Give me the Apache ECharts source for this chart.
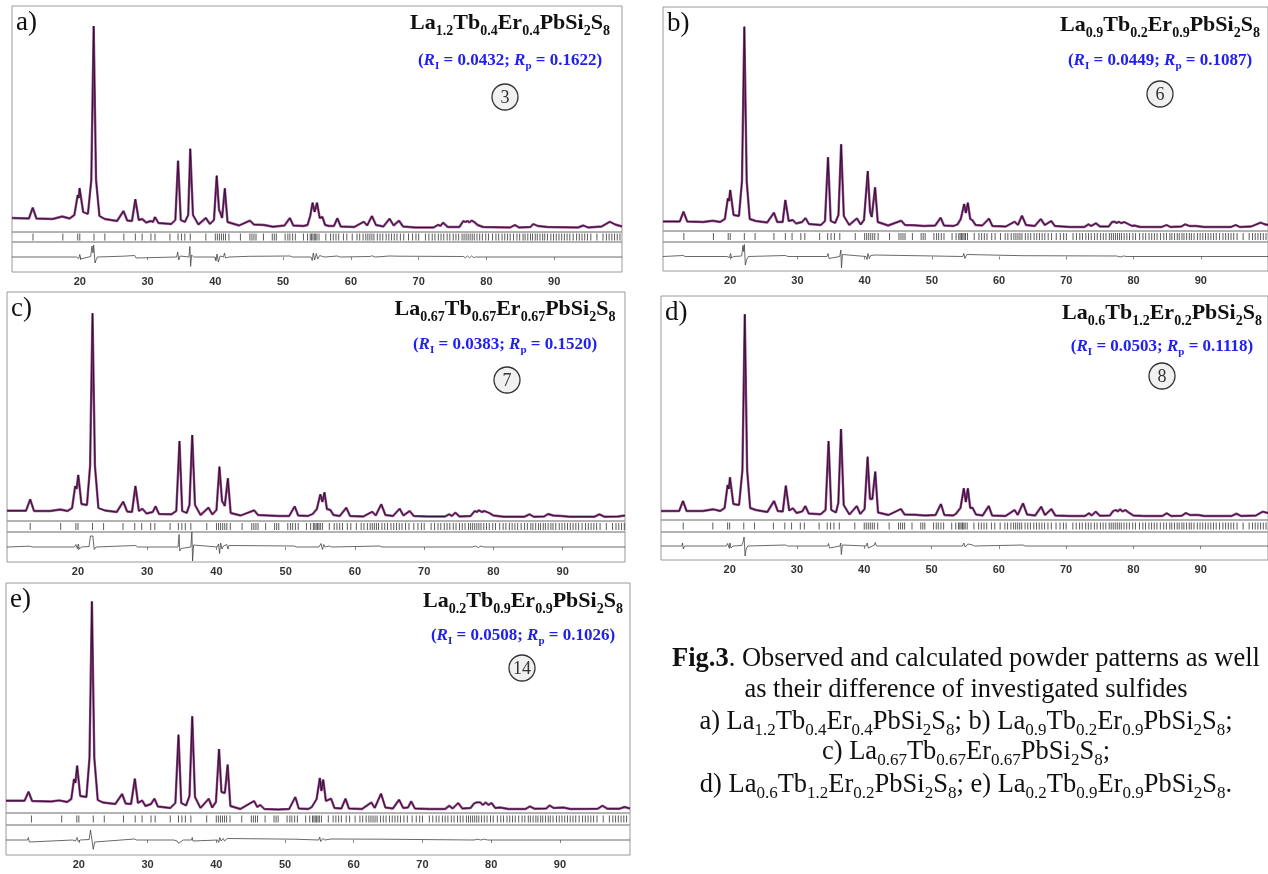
<!DOCTYPE html>
<html>
<head>
<meta charset="utf-8">
<title>Fig.3 powder patterns</title>
<script src="https://cdn.jsdelivr.net/npm/echarts@6/dist/echarts.min.js"></script>
<style>
  html, body { margin: 0; padding: 0; background: #fff; }
  #chart { width: 1268px; height: 874px; }
</style>
</head>
<body>
<div id="chart"></div>
<script>
// 2theta labels under every panel
const axisTicks = [20, 30, 40, 50, 60, 70, 80, 90];

// observed / calculated profile, [2theta, intensity] (arb. units)
const obsA = [[10,14],[12.5,13.5],[13.06,24.3],[13.6,13.5],[16,13],[17.4,15.5],[18.5,13.5],[19.2,17],[19.7,37],[19.85,34],[19.97,44],[20.5,20],[21.2,18],[21.7,52],[22.05,206],[22.4,52],[22.9,16],[23.7,13],[25.5,11],[26.45,21],[27.0,11.5],[27.7,11],[28.2,32.7],[28.7,12],[29.2,13],[29.8,9.5],[30.5,11],[30.8,10],[31.1,15],[31.6,9],[33.5,8],[34.1,12],[34.5,71.3],[34.9,12],[35.5,10],[36.0,17],[36.3,83.3],[36.7,17],[37.5,7.5],[38.6,14],[39.2,8],[39.8,12],[40.2,56.3],[40.55,22],[40.75,19],[41.0,14],[41.4,43.7],[41.8,10],[43.5,6.5],[45.1,11.3],[45.7,7.5],[47.2,7],[48.5,5.3],[50.2,6.5],[51.0,14],[51.5,6.5],[53.0,6],[53.6,7],[54.0,16],[54.35,29.3],[54.65,20],[55.0,29.3],[55.4,14],[55.8,15],[56.2,7],[56.8,6],[57.5,6],[58.0,13.7],[58.5,5.5],[60.5,5],[61.9,10.3],[62.4,6.5],[63.1,16],[63.7,7],[64.8,5.5],[65.7,13.3],[66.3,6.5],[67.1,11.3],[67.7,5.5],[69.5,4.5],[72.2,4.5],[72.9,7.3],[73.2,6],[73.6,9.3],[74.3,5],[76.0,5],[76.6,11],[76.9,10],[77.2,11],[77.5,9.5],[77.8,11.5],[78.2,10],[78.7,7],[79.5,5],[83.5,4.5],[84.2,7],[84.8,4.5],[86.5,5],[86.9,8],[87.6,6],[89.0,5],[93.5,4.5],[94.3,6.5],[95.0,4.5],[97.0,5.5],[98.2,10.3],[99.0,7.5],[100,5.5]];
const obsB = [[10,9.5],[12.5,9.5],[13.05,19.3],[13.6,9.5],[16,9],[17.4,10.3],[18.5,9],[19.2,12],[19.65,32.7],[19.82,30],[20.0,41],[20.5,16],[21.3,15],[21.75,50],[22.1,204.3],[22.45,50],[22.9,12],[23.8,10],[25.5,8.5],[26.5,18.3],[27.0,9],[27.8,9],[28.2,31],[28.7,10],[29.3,11],[29.8,7.5],[30.7,9],[31.2,13],[31.7,7],[33.5,6],[34.1,10],[34.55,73.7],[34.95,10],[35.6,8],[36.1,16],[36.5,86.7],[36.9,15],[37.7,6],[38.85,12.7],[39.4,6.5],[39.9,11],[40.46,60],[40.8,19.3],[41.05,14],[41.55,43.7],[41.95,9],[43.5,5.5],[45.45,10.3],[46.0,6],[47.4,5.7],[48.8,5],[50.5,5.5],[51.3,13.3],[51.8,5.5],[53.2,5],[53.8,6.5],[54.3,12],[54.8,27],[55.05,18],[55.35,28.3],[55.7,12],[56.0,11],[56.5,6],[57.5,5.5],[58.5,12.3],[59.0,5],[61.0,4.5],[62.3,9.3],[62.8,6],[63.4,15.3],[64.0,6],[65.3,5],[66.2,12],[66.8,6],[67.75,10],[68.3,5],[70.5,4],[72.7,4],[73.3,6.7],[73.7,5],[74.4,7.7],[75.0,4.5],[76.3,4.5],[76.8,9],[77.2,9.3],[77.5,8],[77.8,9.3],[78.2,7.8],[78.6,9],[79.2,7],[79.8,5],[80.1,5.5],[81,4],[84.2,4],[84.9,6],[85.5,4],[87.1,4.5],[87.7,6.7],[88.3,5],[89.3,5],[90.5,4],[94.5,4],[95.2,6],[95.8,4],[97.5,4.5],[98.9,8.3],[99.4,7],[100,6]];
const obsC = [[9.75,10.3],[12.5,10.3],[13.1,21.7],[13.65,10],[16,10],[17.45,11.5],[18.5,10],[19.15,13],[19.6,35],[19.8,32],[20.04,46],[20.5,17],[21.3,16],[21.75,55],[22.1,207.7],[22.45,55],[22.95,13],[23.9,10.5],[25.6,9],[26.54,19.3],[27.1,9.5],[27.8,9],[28.3,35],[28.8,10],[29.3,12.3],[29.9,7.5],[30.8,9],[31.2,14.7],[31.7,7],[33.5,6.7],[34.2,10],[34.66,80],[35.05,10],[35.7,8],[36.1,16],[36.5,86],[36.9,16],[37.7,6],[38.85,13.3],[39.4,6.5],[40.0,11],[40.43,54.3],[40.8,20],[41.0,17.7],[41.2,15],[41.65,42.7],[42.05,8],[43.5,5.5],[45.44,10.7],[46.0,6],[47.5,5.5],[49,5],[50.5,5],[51.3,14.7],[51.8,5.5],[53.2,5],[53.9,7],[54.5,12],[55.0,26.7],[55.3,19],[55.6,28.7],[55.95,12],[56.45,11],[56.9,6],[57.8,5],[58.75,13.3],[59.3,5],[61.2,4.5],[62.5,9.3],[63.0,5.5],[63.8,16.7],[64.4,6],[65.5,5],[66.45,12.3],[67.0,5.5],[67.9,10],[68.5,5],[70.5,4.5],[73.0,4.5],[73.6,6.7],[74.0,5],[74.5,8.3],[75.1,4.5],[76.7,5],[77.3,10],[77.6,9],[77.9,10.7],[78.3,9],[78.7,10],[79.4,8],[80.0,5.5],[81.5,4.3],[84.5,4.3],[85.2,6.7],[85.8,4.3],[87.3,4.5],[87.9,7],[88.6,5.5],[89.8,5],[91,4.3],[94.6,4.3],[95.3,6.7],[96.0,4.3],[98,4.5],[99.0,5.5]];
const obsD = [[9.8,9],[12.5,9],[13.07,19],[13.6,9],[16,9],[17.6,10.7],[18.6,9],[19.25,12],[19.7,35],[19.88,31],[20.05,42.7],[20.55,16],[21.4,15],[21.9,50],[22.25,205.7],[22.6,50],[23.05,12],[23.9,10],[25.6,8],[26.6,19],[27.15,9],[27.9,8.5],[28.35,34.3],[28.85,9.5],[29.4,11.7],[29.95,7],[30.8,8.7],[31.25,14],[31.75,6.5],[33.5,5.7],[34.25,10],[34.7,79],[35.1,10],[35.8,7.5],[36.15,17],[36.55,91],[36.95,15],[37.8,5.5],[38.9,14],[39.4,6],[40.05,11],[40.5,63.3],[40.85,21],[41.0,22.7],[41.2,21],[41.64,48.3],[42.05,7.5],[43.6,5],[45.45,11],[46.0,5.5],[47.5,5.3],[49,4.5],[50.6,5],[51.4,16],[51.9,5],[53.2,4.5],[53.6,6],[54.3,12],[54.8,31.7],[55.1,18],[55.4,31.7],[55.75,12],[56.1,12.3],[56.6,5.5],[57.6,4.5],[58.5,14],[59.0,4.5],[61.0,4],[62.35,10],[62.8,5],[63.6,16.7],[64.2,5.5],[65.4,4.5],[66.3,13.3],[66.85,5],[67.8,11],[68.4,4.5],[70.5,4],[72.8,4],[73.4,6.7],[73.8,4.5],[74.4,8.3],[75.0,4.3],[76.5,4.5],[77.0,9],[77.4,10],[77.7,8.5],[78.0,10.7],[78.4,8.5],[78.8,10],[79.3,7.5],[80.0,4.5],[81.5,4],[84.3,4],[84.95,6.7],[85.6,4],[87.2,4.3],[87.8,7],[88.4,5],[89.7,5],[90.5,4],[94.6,4],[95.3,6.3],[96.0,4],[98.2,4.5],[99.2,8.3],[100,7]];
const obsE = [[9.4,12.3],[12.1,12.3],[12.68,21.3],[13.2,12],[16,11.5],[17.13,12.6],[18.3,11],[18.9,14],[19.3,34],[19.5,30],[19.75,47.3],[20.2,17],[21.1,16],[21.55,55],[21.9,211.6],[22.25,55],[22.75,13],[23.5,10.5],[25.3,9],[26.3,19],[26.8,9.5],[27.6,9],[28.15,34.3],[28.6,10],[29.2,12.6],[29.7,7],[30.5,9],[31.0,14.3],[31.5,6.5],[33.3,5],[34.05,10],[34.5,78.3],[34.9,10],[35.6,7.5],[36.1,17],[36.5,96.6],[36.9,16],[37.7,5],[38.9,14.3],[39.4,5.5],[39.95,11],[40.4,64],[40.75,21],[41.0,22.6],[41.25,20],[41.65,48.3],[42.05,7],[43.5,4],[45.5,12],[45.95,6],[46.4,8],[47,4],[49,3.5],[50.6,4],[51.5,16],[52.0,4.5],[53.4,4],[53.9,6],[54.6,14],[55.07,35],[55.3,22],[55.56,33.3],[55.95,12],[56.7,14.3],[57.2,5],[58.2,4.5],[58.8,14.3],[59.3,4.5],[61.2,4],[62.56,10.6],[63.05,5],[63.97,19.3],[64.6,5.5],[65.7,4.5],[66.6,13.3],[67.2,5],[67.9,5.5],[68.36,11.6],[68.9,4.5],[71,4],[73.3,4],[73.9,7.3],[74.4,4.5],[75.2,10],[75.8,4.5],[77.0,5],[77.5,9.5],[77.9,10.6],[78.15,9],[78.4,10.6],[78.8,8],[79.2,10.6],[79.6,8],[80.05,10],[80.6,5],[81.3,5.5],[82.5,4],[85.0,4],[85.6,6.6],[86.3,4.3],[88.0,4.5],[88.5,7.6],[89.1,5],[90.5,5.5],[91.5,4],[95.5,4.3],[96.2,7.3],[96.9,4.3],[98.7,4.3],[99.4,6],[100.2,4.5]];

// difference curves (obs - calc)
const diffA = [[10,0],[12.9,0],[13.0,1.5],[13.15,-1.5],[13.3,0],[19.5,0],[19.7,2],[19.85,-1.5],[20.0,2.5],[20.15,-2],[20.4,0],[21.6,0.5],[21.8,11],[21.95,4],[22.05,12],[22.25,-6],[22.4,-3],[22.6,0],[26.4,0.8],[26.55,-0.5],[28.1,1.5],[28.3,-1],[28.5,0],[34.3,0],[34.45,5],[34.6,-3],[34.8,1],[35,0],[36.1,0],[36.25,10.6],[36.35,-9.4],[36.5,2],[36.8,0],[39.9,0],[40.1,-4],[40.25,3],[40.45,-5],[40.7,1],[41.2,0],[41.35,4],[41.5,-1],[41.7,1],[42,0],[45.1,0.7],[45.3,0],[51.0,1],[51.2,-1],[51.4,0],[54.1,0],[54.3,-3.5],[54.45,4],[54.65,-3],[54.9,3.5],[55.1,-2],[55.4,1.5],[55.8,0.5],[56.2,0],[58.0,1],[58.2,-0.5],[58.4,0],[62.8,0.5],[63.1,1.2],[63.3,-0.5],[63.6,0],[65.7,1],[65.9,0],[67.1,0.8],[67.3,0],[76.6,0.5],[76.9,-0.8],[77.2,1],[77.5,-0.8],[77.8,1],[78.1,-0.5],[78.4,0],[100,0]];
const diffB = [[10,0],[13.0,1],[13.1,-1],[13.3,0],[19.5,0],[19.7,2],[19.9,-1],[20.05,3],[20.2,-1.5],[20.5,0],[21.7,0.5],[21.9,11],[22.0,5],[22.1,12],[22.25,-8.5],[22.45,-3],[22.7,0],[28.2,1],[28.4,-1],[28.6,0],[34.4,0],[34.55,3],[34.7,-2],[34.9,0],[36.3,0],[36.45,6.5],[36.55,-11.5],[36.7,2],[36.9,0],[40.2,0],[40.35,-3],[40.5,3],[40.7,-2],[40.9,1],[41.1,0],[41.5,1.5],[41.7,0],[54.6,0],[54.75,3],[54.9,-2],[55.2,2],[55.4,0],[63.4,0.8],[63.6,0],[77.5,0.5],[78,-0.5],[78.5,0.5],[79,0],[100,0]];
const diffC = [[9.75,0],[13.0,0.8],[13.2,-0.8],[13.4,0],[19.5,0],[19.7,2.5],[19.9,-1.5],[20.05,3],[20.2,-2],[20.5,0],[21.6,0.5],[21.8,11],[22.0,9],[22.15,11],[22.35,-2.5],[22.6,0],[28.3,1.5],[28.45,-0.5],[28.6,0],[34.45,0],[34.6,12.5],[34.7,-4],[34.9,-1.5],[35.1,0],[36.3,0],[36.45,15],[36.55,-14],[36.7,2],[36.9,0],[40.1,0],[40.3,3],[40.45,-6.5],[40.6,4],[40.8,-2],[41.0,1],[41.5,2.5],[41.65,-2],[41.8,1.5],[42,0],[51.2,1],[51.4,-0.5],[51.6,0],[54.8,0],[55.0,-2],[55.1,3.5],[55.3,-2.5],[55.5,2.5],[55.7,0],[56.3,1],[56.6,0],[63.6,1],[63.9,0],[77,0],[77.4,1],[77.8,-0.5],[78.2,1],[78.6,0],[99,0]];
const diffD = [[9.8,0],[12.9,0],[13.0,3],[13.12,-3],[13.3,0],[19.5,0],[19.7,2.5],[19.9,-1.5],[20.05,3],[20.2,-2],[20.5,0],[21.8,0.5],[22.0,4],[22.15,9],[22.3,-10],[22.45,-3],[22.7,0],[28.3,1],[28.45,-1],[28.6,0],[34.55,0],[34.7,2.5],[34.85,-2],[35,0],[36.4,0],[36.5,3],[36.6,-8.5],[36.75,1],[36.9,0],[40.3,0],[40.45,3],[40.6,-2],[40.8,0],[41.5,1],[41.64,3.5],[41.8,0],[54.6,0],[54.8,3],[55.0,-1],[55.4,2],[55.6,0],[56.1,1],[56.4,0],[63.6,1],[63.9,0],[100,0]];
const diffE = [[9.4,0],[12.55,0],[12.65,2.5],[12.8,-2],[12.95,0],[19.1,0],[19.3,1.5],[19.5,-1],[19.75,2.5],[19.9,-1.5],[20.2,0],[21.5,0.5],[21.7,10],[21.85,8],[21.95,10.5],[22.1,-9.3],[22.3,-2],[22.5,0],[28.1,1],[28.25,-1],[28.4,0],[33.8,0],[34.3,-1],[34.5,-3.3],[34.7,-1.5],[35.2,0],[36.4,0],[36.5,2.5],[36.6,-1],[36.8,0],[40.2,0],[40.35,-2.5],[40.5,2.5],[40.7,-1],[41.0,1.5],[41.2,-1],[41.6,1.5],[41.8,0],[51.4,0.8],[51.6,0],[54.9,0],[55.05,3],[55.2,-1.5],[55.5,1.5],[55.8,0],[56.7,1],[56.9,0],[64,0.8],[64.2,0],[77.5,0],[78,0.8],[78.5,0],[79,0.8],[79.5,0],[100.2,0]];

// Bragg reflection positions (2theta)
const braggPos = [13.1,17.5,19.7,20.0,22.1,23.7,26.5,28.2,29.2,30.5,31.1,33.3,34.5,35.0,35.5,36.3,38.6,40.0,40.3,40.6,40.9,41.2,41.5,42.0,43.7,45.1,45.4,45.7,46.0,47.1,48.4,48.7,49.0,50.3,50.7,51.0,51.4,51.8,53.0,53.6,54.0,54.2,54.4,54.6,54.8,55.0,55.3,56.3,57.0,57.4,57.8,58.2,58.9,59.4,60.2,60.9,61.3,61.8,62.2,62.5,62.8,63.1,63.4,63.9,64.3,64.7,65.2,65.6,66.0,66.4,66.8,67.3,67.8,68.5,69.1,69.6,70.0,71.0,71.5,72.0,72.4,72.9,73.3,73.7,74.2,74.6,75.1,75.5,75.9,76.4,76.7,77.0,77.3,77.6,77.9,78.2,78.6,79.0,79.4,79.9,80.3,80.9,81.4,81.8,82.3,82.7,83.1,83.5,84.0,84.5,84.9,85.4,85.7,86.1,86.5,86.8,87.2,87.5,87.9,88.3,88.6,89.0,89.5,89.9,90.3,90.7,91.1,91.5,91.9,92.3,92.8,93.3,93.7,94.1,94.5,94.9,95.4,96.3,97.2,97.7,98.1,98.5,98.9,99.3,99.7];

// compositions: element / subscript pairs
const formulaA = ['La', '1.2', 'Tb', '0.4', 'Er', '0.4', 'PbSi', '2', 'S', '8'];
const formulaB = ['La', '0.9', 'Tb', '0.2', 'Er', '0.9', 'PbSi', '2', 'S', '8'];
const formulaC = ['La', '0.67', 'Tb', '0.67', 'Er', '0.67', 'PbSi', '2', 'S', '8'];
const formulaD = ['La', '0.6', 'Tb', '1.2', 'Er', '0.2', 'PbSi', '2', 'S', '8'];
const formulaE = ['La', '0.2', 'Tb', '0.9', 'Er', '0.9', 'PbSi', '2', 'S', '8'];

const panels = [
  { tag: 'a)', obs: obsA, diff: diffA, formula: formulaA, rI: '0.0432', rP: '0.1622', num: '3',
    xMin: 10, xMax: 100, left: 12, width: 610, top: 6, mainH: 226, tickH: 10, diffH: 30,
    tx: 510, ty: 25, ry: 62, cy: 97, cx: 505 },
  { tag: 'b)', obs: obsB, diff: diffB, formula: formulaB, rI: '0.0449', rP: '0.1087', num: '6',
    xMin: 10, xMax: 100, left: 663, width: 609, top: 7, mainH: 224, tickH: 11, diffH: 29,
    tx: 1160, ty: 27, ry: 62, cy: 94, cx: 1160 },
  { tag: 'c)', obs: obsC, diff: diffC, formula: formulaC, rI: '0.0383', rP: '0.1520', num: '7',
    xMin: 9.75, xMax: 99, left: 7, width: 618, top: 292, mainH: 229, tickH: 11, diffH: 30,
    tx: 505, ty: 311, ry: 346, cy: 380, cx: 507 },
  { tag: 'd)', obs: obsD, diff: diffD, formula: formulaD, rI: '0.0503', rP: '0.1118', num: '8',
    xMin: 9.8, xMax: 100, left: 661, width: 611, top: 296, mainH: 224, tickH: 12, diffH: 28,
    tx: 1162, ty: 315, ry: 348, cy: 376, cx: 1162 },
  { tag: 'e)', obs: obsE, diff: diffE, formula: formulaE, rI: '0.0508', rP: '0.1026', num: '14',
    xMin: 9.4, xMax: 100.2, left: 6, width: 624, top: 583, mainH: 230, tickH: 12, diffH: 30,
    tx: 523, ty: 603, ry: 637, cy: 668, cx: 522 }
];

const serif = '"Liberation Serif", "Times New Roman", serif';

function richFormula(parts, m, s) {
  return parts.map((t, k) => '{' + (k % 2 ? s : m) + '|' + t + '}').join('');
}

let grids = [], xAxes = [], yAxes = [], series = [], graphics = [];

panels.forEach((p, i) => {
  const tops = [p.top, p.top + p.mainH, p.top + p.mainH + p.tickH];
  const heights = [p.mainH, p.tickH, p.diffH];
  for (let k = 0; k < 3; k++) {
    grids.push({
      left: p.left, top: tops[k], width: p.width, height: heights[k],
      show: true, borderColor: '#9a9a9a', borderWidth: 1, backgroundColor: 'transparent'
    });
    const isDiff = k === 2;
    xAxes.push({
      gridIndex: i * 3 + k, type: 'value', min: p.xMin, max: p.xMax,
      show: isDiff,
      axisLine: { show: false },
      splitLine: { show: false },
      axisTick: { show: true, customValues: axisTicks, length: 3, lineStyle: { color: '#888' } },
      axisLabel: {
        customValues: axisTicks, margin: 4, fontSize: 11, fontWeight: 'bold',
        fontFamily: '"Liberation Sans", Arial, sans-serif', color: '#333'
      }
    });
  }
  yAxes.push({ gridIndex: i * 3, type: 'value', min: 0, max: p.mainH, show: false });
  yAxes.push({ gridIndex: i * 3 + 1, type: 'value', min: -1, max: 1, show: false });
  yAxes.push({ gridIndex: i * 3 + 2, type: 'value', min: -p.diffH / 2, max: p.diffH / 2, show: false });

  // observed (purple) + calculated (dark)
  series.push({
    type: 'line', xAxisIndex: i * 3, yAxisIndex: i * 3, data: p.obs,
    showSymbol: false, animation: false, silent: true,
    lineStyle: { color: '#8e4487', width: 2.4 }, z: 2
  });
  series.push({
    type: 'line', xAxisIndex: i * 3, yAxisIndex: i * 3, data: p.obs,
    showSymbol: false, animation: false, silent: true,
    lineStyle: { color: '#2c0a2a', width: 0.9 }, z: 3
  });
  // Bragg positions
  series.push({
    type: 'scatter', xAxisIndex: i * 3 + 1, yAxisIndex: i * 3 + 1,
    data: braggPos.map(v => [v, 0]), symbol: 'rect', symbolSize: [1, 7],
    itemStyle: { color: '#333' }, animation: false, silent: true
  });
  // difference
  series.push({
    type: 'line', xAxisIndex: i * 3 + 2, yAxisIndex: i * 3 + 2, data: p.diff,
    showSymbol: false, animation: false, silent: true,
    lineStyle: { color: '#444', width: 0.8 }
  });

  graphics.push({
    type: 'text', x: p.left + 4, y: p.top + 17, z: 10,
    style: { text: p.tag, font: '27px ' + serif, fill: '#111', verticalAlign: 'middle', textVerticalAlign: 'middle' }
  });
  graphics.push({
    type: 'text', x: p.tx, y: p.ty, z: 10,
    style: {
      text: richFormula(p.formula, 'm', 's'),
      align: 'center', textAlign: 'center', verticalAlign: 'middle', textVerticalAlign: 'middle',
      rich: {
        m: { fontSize: 22, fontWeight: 'bold', fontFamily: serif, fill: '#111', lineHeight: 26, verticalAlign: 'top' },
        s: { fontSize: 14, fontWeight: 'bold', fontFamily: serif, fill: '#111', lineHeight: 14, verticalAlign: 'bottom' }
      }
    }
  });
  graphics.push({
    type: 'text', x: p.tx, y: p.ry, z: 10,
    style: {
      text: '{p|(}{r|R}{q|I}{p| = ' + p.rI + '; }{r|R}{q|p}{p| = ' + p.rP + ')}',
      align: 'center', textAlign: 'center', verticalAlign: 'middle', textVerticalAlign: 'middle',
      rich: {
        p: { fontSize: 17, fontWeight: 'bold', fontFamily: serif, fill: '#2020f0', lineHeight: 20, verticalAlign: 'top' },
        r: { fontSize: 17, fontWeight: 'bold', fontStyle: 'italic', fontFamily: serif, fill: '#2020f0', lineHeight: 20, verticalAlign: 'top' },
        q: { fontSize: 11, fontWeight: 'bold', fontFamily: serif, fill: '#2020f0', lineHeight: 11, verticalAlign: 'bottom' }
      }
    }
  });
  graphics.push({
    type: 'circle', z: 10, shape: { cx: p.cx, cy: p.cy, r: 13 },
    style: { fill: '#f1f1f1', stroke: '#333', lineWidth: 1.3 }
  });
  graphics.push({
    type: 'text', x: p.cx, y: p.cy + 1, z: 11,
    style: {
      text: p.num, font: '18px ' + serif, fill: '#333',
      align: 'center', textAlign: 'center', verticalAlign: 'middle', textVerticalAlign: 'middle'
    }
  });
});

// figure caption
const capRich = {
  n: { fontSize: 26.5, fontFamily: serif, fill: '#111', lineHeight: 30, verticalAlign: 'top' },
  b: { fontSize: 26.5, fontWeight: 'bold', fontFamily: serif, fill: '#111', lineHeight: 30, verticalAlign: 'top' },
  s: { fontSize: 17, fontFamily: serif, fill: '#111', lineHeight: 17, verticalAlign: 'bottom' }
};
const capLines = [
  '{b|Fig.3}{n|. Observed and calculated powder patterns as well}',
  '{n|as their difference of investigated sulfides}',
  '{n|a) }' + richFormula(formulaA, 'n', 's') + '{n|; b) }' + richFormula(formulaB, 'n', 's') + '{n|;}',
  '{n|c) }' + richFormula(formulaC, 'n', 's') + '{n|;}',
  '{n|d) }' + richFormula(formulaD, 'n', 's') + '{n|; e) }' + richFormula(formulaE, 'n', 's') + '{n|.}'
];
const capY = [661, 692, 724, 754, 787];
capLines.forEach((t, k) => {
  graphics.push({
    type: 'text', x: 966, y: capY[k], z: 10,
    style: { text: t, rich: capRich, align: 'center', textAlign: 'center', verticalAlign: 'middle', textVerticalAlign: 'middle' }
  });
});

let myChart = echarts.init(document.getElementById('chart'));
let option = {
  backgroundColor: '#fff',
  animation: false,
  grid: grids,
  xAxis: xAxes,
  yAxis: yAxes,
  series: series,
  graphic: { elements: graphics }
};
myChart.setOption(option);
</script>
</body>
</html>
